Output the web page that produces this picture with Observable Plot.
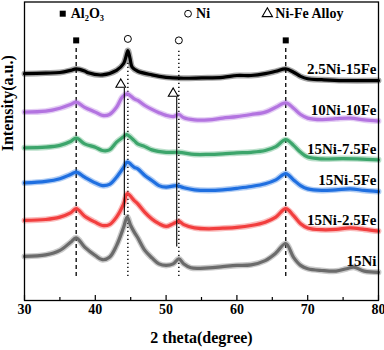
<!DOCTYPE html>
<html><head><meta charset="utf-8">
<script src="https://cdn.jsdelivr.net/npm/d3@7"></script>
<script src="https://cdn.jsdelivr.net/npm/@observablehq/plot@0.6"></script>
<style>body{margin:0;background:#fff} svg{display:block}</style>
</head><body><div id="chart"></div>
<script>
// ---- data (2θ in degrees, intensity in arbitrary offset units) ----
const seriesNames = ["2.5Ni-15Fe", "10Ni-10Fe", "15Ni-7.5Fe", "15Ni-5Fe", "15Ni-2.5Fe", "15Ni"];
const seriesColors = ["#000000", "#b374e0", "#3ca56b", "#1f6fe0", "#f23e3e", "#6b6b6b"];

const curve_2_5Ni_15Fe = [[30,75.6],[33,75.8],[35,76],[36.5,76.7],[37.3,77.2],[38.5,76.5],[39,75.9],[41,75.2],[43,76.7],[44,79],[44.3,81],[44.6,83.3],[44.9,80.7],[45.2,77.8],[46,76.4],[48,75.2],[50,74.4],[52,74.1],[55,74.2],[58,74.4],[60,75],[62,75],[64,75.6],[65.5,76.4],[66.9,77.2],[68,76.1],[69,74.7],[70,73.9],[72,73.6],[75,73.3],[80,73.3]];
const curve_10Ni_10Fe = [[30,62.8],[33,63.1],[35,64.1],[36.5,65.3],[37.3,66.1],[38.5,64.4],[40,62.8],[41,61.7],[42,62],[43,64.4],[43.8,67.8],[44.5,68.9],[45.5,67.2],[46,66.7],[47,65],[48,63.7],[49,62.6],[50,61.7],[51,61.3],[51.8,62],[52.5,60.9],[54,60.2],[56,60.2],[58,60.8],[60,61.3],[62,62],[64,62.8],[65.5,64.4],[66.9,65.9],[68,64.1],[69,62],[70,60.8],[72,60.3],[74,60.6],[76,60.8],[78,60.2],[80,59.8]];
const curve_15Ni_7_5Fe = [[30,50.9],[33,51.1],[35,51.7],[36.5,53],[37.3,54.1],[38.5,52.2],[40,51.1],[41,50],[42,50.2],[43,52.8],[43.9,54.4],[44.4,55.3],[45.5,53.3],[46,52.2],[47,51.3],[48,50.2],[50,49.4],[51.8,49.4],[54,48.7],[56,48.7],[58,48.9],[60,49.2],[62,49.4],[64,50],[65.5,51.3],[66.9,53.6],[68,51.7],[69,49.4],[70,47.8],[72,47.2],[75,47.3],[80,46.9]];
const curve_15Ni_5Fe = [[30,39.2],[33,39.7],[35,40.6],[36.5,42],[37.3,42.8],[38.5,41.1],[40,39.2],[41,38.3],[42,38.7],[43,41.1],[44,44.4],[44.5,46.1],[45.5,44.4],[46,43.9],[47,41.7],[48,40],[49,38.3],[50,37.8],[51.5,38.3],[52.5,37.6],[54,36.9],[56,36.7],[58,36.9],[60,37.4],[62,38],[64,38.9],[65.5,40.2],[66.9,42.3],[68,40.2],[69,38.3],[70,37.2],[72,36.7],[74,36.9],[76,37.2],[78,36.7],[80,36.3]];
const curve_15Ni_2_5Fe = [[30,26.7],[33,27],[35,27.8],[36.5,29.2],[37.3,30.6],[38.5,28.1],[40,26.1],[41,25],[42,25.3],[43,27.8],[44,32.2],[44.5,35.6],[45.5,33.3],[46,32.2],[47,29.4],[48,27.2],[49,25.6],[50,24.7],[51,25.6],[51.8,26.4],[52.5,25.3],[54,24.2],[56,23.9],[58,24.1],[60,24.4],[62,25],[64,26.1],[65.5,27.8],[66.9,30.6],[68,28.3],[69,25.6],[70,24.2],[72,23.6],[74,23.7],[76,24.2],[78,23.7],[80,23.1]];
const curve_15Ni = [[30,14.7],[33,15.2],[35,16.7],[36.5,19.4],[37.3,20.9],[38.5,17.8],[40,15],[41,13.6],[42,14.4],[43,18.3],[44,24.4],[44.5,27.8],[45,25],[45.5,22.8],[46,20.9],[47,16.7],[48,14.2],[49,12.2],[50,11.7],[51,12.2],[51.8,13.9],[52.5,12.2],[53.5,10.9],[56,10.9],[58,11.3],[60,11.7],[62,11.9],[64,13.3],[65.5,15.8],[66.9,19],[68,14.4],[69,11.7],[70,10.6],[72,10],[74,9.8],[75.5,10.6],[76.5,11.1],[78,9.8],[80,9.4]];
const seriesData = [curve_2_5Ni_15Fe, curve_10Ni_10Fe, curve_15Ni_7_5Fe, curve_15Ni_5Fe, curve_15Ni_2_5Fe, curve_15Ni];

// reference peak lines
const al2o3Peaks = [37.3, 66.9];
const al2o3LineTop = 84.4, refLineBottom = 8;
const niPeaks = [44.6, 51.8];
const niLineTop = [80, 84];
const niMarkerY = [87.2, 86.7];
const al2o3MarkerY = 86.7;
const niFePeaks = [44.1, 51.5];
const niFeTop = [70.7, 67.7];
const niFeBottom = [28.3, 17.8];
const niFeMarkerX = [43.6, 51.0];
const niFeMarkerY = [72, 69];

// legend
const legendLabels = ["Al₂O₃", "Ni", "Ni-Fe Alloy"];
const legendX = [35.4, 53.1, 64.3];
const legendY = 95.6;

const xMajorTicks = [30, 40, 50, 60, 70, 80];
const xMinorTicks = [35, 45, 55, 65, 75];

// ---- build ----
const rows = seriesNames.flatMap((name, i) => seriesData[i].map(([x, y]) => ({series: name, x, y})));
const labelRows = seriesNames.map((name, i) => ({series: name, y: seriesData[i][seriesData[i].length - 1][1]}));
const font = "'Liberation Serif','Times New Roman',serif";

const chart = Plot.plot({
  width: 384, height: 350,
  marginLeft: 24, marginRight: 6, marginTop: 1.5, marginBottom: 50,
  x: {domain: [30, 80]},
  y: {domain: [0, 99.5], axis: null},
  color: {domain: seriesNames, range: seriesColors},
  style: {fontFamily: font, fontWeight: "bold", background: "white", color: "black"},
  marks: [
    // reference lines
    Plot.ruleX(al2o3Peaks, {x: d => d, y1: refLineBottom, y2: al2o3LineTop, stroke: "black", strokeWidth: 1.3, strokeDasharray: "4,3"}),
    Plot.ruleX(niPeaks, {x: d => d, y1: refLineBottom, y2: (d, i) => niLineTop[i], stroke: "black", strokeWidth: 1.4, strokeDasharray: "1.3,2.7"}),
    // curves: soft halo + core to mimic the noisy trace width
    Plot.line(rows, {x: "x", y: "y", z: "series", stroke: "series", strokeWidth: 6, strokeOpacity: 0.35, curve: "catmull-rom"}),
    Plot.line(rows, {x: "x", y: "y", z: "series", stroke: "series", strokeWidth: 3.2, curve: "catmull-rom"}),
    Plot.ruleX(niFePeaks, {x: d => d, y1: (d, i) => niFeBottom[i], y2: (d, i) => niFeTop[i], stroke: "black", strokeWidth: 1.1}),
    // peak markers
    Plot.dot(al2o3Peaks, {x: d => d, y: () => al2o3MarkerY, symbol: "square", fill: "black", r: 3.4}),
    Plot.dot(niPeaks, {x: d => d, y: (d, i) => niMarkerY[i], symbol: "circle", fill: "white", stroke: "black", strokeWidth: 1, r: 3.5}),
    Plot.dot(niFeMarkerX, {x: d => d, y: (d, i) => niFeMarkerY[i], symbol: "triangle", fill: "white", stroke: "black", strokeWidth: 1.1, r: 3.6}),
    // legend
    Plot.dot([legendX[0]], {x: d => d, y: () => legendY, symbol: "square", fill: "black", r: 3.4}),
    Plot.dot([legendX[1]], {x: d => d, y: () => legendY, symbol: "circle", fill: "white", stroke: "black", strokeWidth: 1, r: 3.4}),
    Plot.dot([legendX[2]], {x: d => d, y: () => legendY, symbol: "triangle", fill: "white", stroke: "black", strokeWidth: 1.1, r: 3.8}),
    Plot.text(legendLabels, {x: (d, i) => legendX[i], y: () => legendY, text: d => d, textAnchor: "start", dx: 8, fontSize: 14, fontWeight: "bold", fill: "black"}),
    // series labels
    Plot.text(labelRows, {y: "y", text: "series", frameAnchor: "right", textAnchor: "end", dx: -2, dy: -11, fontSize: 15, fontWeight: "bold", fill: "black"}),
    // axes
    Plot.frame({stroke: "black", strokeWidth: 1.3}),
    Plot.tickX(xMajorTicks, {x: d => d, insetTop: 293.5, stroke: "black", strokeWidth: 1.2}),
    Plot.tickX(xMinorTicks, {x: d => d, insetTop: 295.5, stroke: "black", strokeWidth: 1.2}),
    Plot.axisX({ticks: xMajorTicks, tickSize: 0, tickPadding: 4, fontSize: 14, fontWeight: "bold", label: null}),
    Plot.text(["2 theta(degree)"], {frameAnchor: "bottom", dy: 42, fontSize: 16, fontWeight: "bold", fill: "black"}),
    Plot.text(["Intensity(a.u.)"], {frameAnchor: "left", rotate: -90, dx: -17, fontSize: 16, fontWeight: "bold", fill: "black"})
  ]
});
document.getElementById("chart").appendChild(chart);
</script>
</body></html>
